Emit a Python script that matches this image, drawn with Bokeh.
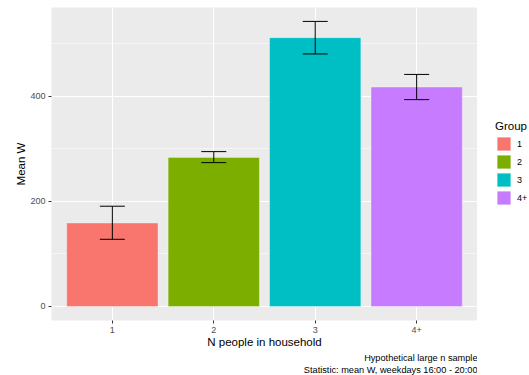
from bokeh.plotting import figure
from bokeh.layouts import row
from bokeh.models import (ColumnDataSource, FactorRange, Range1d, Whisker, TeeHead,
                          Legend, LegendItem, SingleIntervalTicker, Title)
from bokeh.embed import file_html
from bokeh.resources import INLINE

groups = ["1", "2", "3", "4+"]
mean_w = [159, 284, 512, 418]
err_low = [128, 274, 481, 394]
err_high = [191, 295, 543, 442]
colors = ["#F8766D", "#7CAE00", "#00BFC4", "#C77CFF"]
caption_lines = ["Hypothetical large n sample", "Statistic: mean W, weekdays 16:00 - 20:00"]

FONT = "Liberation Sans"

src = ColumnDataSource(dict(x=groups, top=mean_w, lower=err_low, upper=err_high, color=colors))

p = figure(width=477, height=375,
           x_range=FactorRange(factors=groups, range_padding=0.1, range_padding_units="absolute"),
           y_range=Range1d(-26.7, 569.5),
           output_backend="svg", toolbar_location=None,
           min_border_left=51, min_border_right=0, min_border_top=7, min_border_bottom=55)

p.background_fill_color = "#EBEBEB"
p.border_fill_color = "white"
p.outline_line_color = None

p.xgrid.grid_line_color = "white"
p.xgrid.grid_line_width = 1.1
p.ygrid.grid_line_color = "white"
p.ygrid.grid_line_width = 1.1
p.ygrid.minor_grid_line_color = "white"
p.ygrid.minor_grid_line_width = 0.55

p.yaxis.ticker = SingleIntervalTicker(interval=200, num_minor_ticks=2)

for ax in (p.xaxis[0], p.yaxis[0]):
    ax.axis_line_color = None
    ax.major_tick_line_color = "#333333"
    ax.major_tick_out = 3
    ax.major_tick_in = 0
    ax.minor_tick_line_color = None
    ax.major_label_text_font = FONT
    ax.major_label_text_font_size = "9px"
    ax.major_label_text_color = "#4D4D4D"
    ax.major_label_standoff = 2
    ax.axis_label_text_font = FONT
    ax.axis_label_text_font_size = "11.5px"
    ax.axis_label_text_font_style = "normal"
    ax.axis_label_text_color = "black"
    ax.axis_label_standoff = 0

p.xaxis.major_label_standoff = 3
p.xaxis.axis_label_standoff = 0
p.xaxis.axis_label = "N people in household"
p.yaxis.axis_label = "Mean W"

bar_kw = dict(x="x", top="top", bottom=0, fill_color="color",
              line_color="white", line_alpha=0.35, line_width=1, source=src)
bars = p.vbar(width=0.9, **bar_kw)

whisk = Whisker(base="x", upper="upper", lower="lower", source=src,
                line_color="black", line_width=1, level="annotation",
                upper_head=TeeHead(size=25, line_color="black", line_width=1),
                lower_head=TeeHead(size=25, line_color="black", line_width=1))
p.add_layout(whisk)

for line in caption_lines:
    t = Title(text=line, align="right", text_font=FONT, text_font_size="9.2px",
              text_font_style="normal", text_color="black", standoff=0, offset=0)
    p.add_layout(t, "below")

# legend panel: a small figure holding the legend; its own bars have zero width
lg = figure(width=52, height=375, x_range=FactorRange(factors=groups),
            y_range=Range1d(-2000, -1000), output_backend="svg", toolbar_location=None,
            x_axis_location=None, y_axis_location=None,
            min_border_left=0, min_border_right=0, min_border_top=0, min_border_bottom=0)
lg.grid.visible = False
lg.outline_line_color = None
lg.background_fill_color = "white"
lg.border_fill_color = "white"
lg_bars = lg.vbar(width=0, **bar_kw)

items = [LegendItem(label=g, renderers=[lg_bars], index=i) for i, g in enumerate(groups)]
legend = Legend(items=items, location=(18, 114), title="Group",
                title_text_font=FONT, title_text_font_size="11.5px", title_text_font_style="normal",
                title_text_color="black", title_standoff=3,
                label_text_font=FONT, label_text_font_size="9px", label_standoff=5,
                label_text_color="black",
                glyph_width=17, glyph_height=17, label_height=17, spacing=1, padding=0, margin=0,
                border_line_color=None, background_fill_alpha=0)
lg.add_layout(legend)

layout = row(p, lg)
open("out.html", "w").write(file_html(layout, INLINE))
